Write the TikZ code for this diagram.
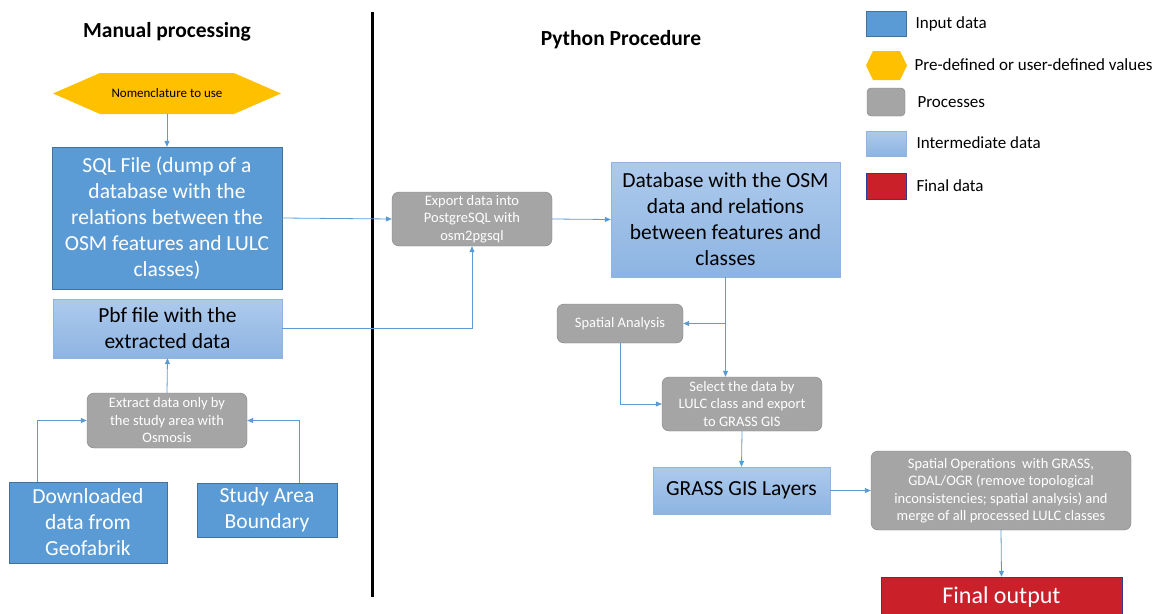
\documentclass[tikz,border=0pt]{standalone}
\usepackage{fontspec}
\setmainfont{Carlito}
\usepackage{tikz}
\usetikzlibrary{arrows.meta}
\definecolor{inblue}{HTML}{5B9BD5}
\definecolor{inborder}{HTML}{41719C}
\definecolor{midtop}{HTML}{ADCAEC}
\definecolor{midbot}{HTML}{8DB4E2}
\definecolor{midborder}{HTML}{8FB4DF}
\definecolor{procgrey}{HTML}{A5A5A5}
\definecolor{procborder}{HTML}{808080}
\definecolor{hexyellow}{HTML}{FFC000}
\definecolor{finred}{HTML}{C9202A}
\definecolor{finborder}{HTML}{2F3E8F}
\definecolor{linkblue}{HTML}{5B9BD5}
\tikzset{
  inbox/.style={draw=inborder,fill=inblue,text=white,align=center,inner sep=0pt,font=\fontsize{21.5}{26}\selectfont},
  midbox/.style={draw=midborder,top color=midtop,bottom color=midbot,align=center,inner sep=0pt,font=\fontsize{21.5}{26}\selectfont},
  procbox/.style={draw=procborder,fill=procgrey,rounded corners=7pt,text=white,align=center,inner sep=0pt,font=\fontsize{14.5}{17.5}\selectfont},
  finbox/.style={draw=finborder,fill=finred,text=white,align=center,inner sep=0pt,font=\fontsize{24}{28}\selectfont},
  legtext/.style={anchor=west,font=\fontsize{17}{20}\selectfont},
  heading/.style={font=\bfseries\fontsize{21.5}{24}\selectfont},
  link/.style={draw=linkblue,line width=0.8pt,-{Triangle[length=6pt,width=5pt]}}
}
\begin{document}
\begin{tikzpicture}[x=1pt,y=-1pt]
\useasboundingbox (0,0) rectangle (1153,613);
\begin{scope}
\clip (0,0) rectangle (1153,613);
\node[heading] (manual) at (167,32) {Manual processing};
\node[heading] (python) at (621,40) {Python Procedure};
\draw[line width=3pt] (372,12) -- (372,597);

\fill[hexyellow] (53,93.5) -- (100,73) -- (234,73) -- (281,93.5) -- (234,114) -- (100,114) -- cycle;
\node[minimum width=228pt,minimum height=41pt,inner sep=0pt,font=\fontsize{13}{15}\selectfont] (nomen) at (167,93.5) {Nomenclature to use};
\node[inbox,minimum width=230pt,minimum height=142pt] (sql) at (167,218) {SQL File (dump of a\\database with the\\relations between the\\OSM features and LULC\\classes)};
\node[midbox,minimum width=229pt,minimum height=59pt] (pbf) at (167.5,328.5) {Pbf file with the\\extracted data};
\node[procbox,minimum width=160pt,minimum height=55pt] (extract) at (167,420.5) {Extract data only by\\the study area with\\Osmosis};
\node[inbox,minimum width=158pt,minimum height=81pt] (down) at (88,522.5) {Downloaded\\data from\\Geofabrik};
\node[inbox,minimum width=140pt,minimum height=54pt] (study) at (267,510) {Study Area\\Boundary};

\node[procbox,minimum width=160pt,minimum height=54pt] (export) at (472,219) {Export data into\\PostgreSQL with\\osm2pgsql};
\node[midbox,minimum width=229pt,minimum height=115pt] (db) at (725.5,219.5) {Database with the OSM\\data and relations\\between features and\\classes};
\node[procbox,minimum width=126pt,minimum height=39pt] (spatial) at (620,323.5) {Spatial Analysis};
\node[procbox,minimum width=160pt,minimum height=54pt] (select) at (742,404) {Select the data by\\LULC class and export\\to GRASS GIS};
\node[midbox,minimum width=177pt,minimum height=47pt] (grass) at (741.5,490.5) {GRASS GIS Layers};
\node[procbox,minimum width=260pt,minimum height=79pt] (spops) at (1001,490.5) {Spatial Operations\ \ with GRASS,\\GDAL/OGR (remove topological\\inconsistencies; spatial analysis) and\\merge of all processed LULC classes};
\node[finbox,minimum width=241pt,minimum height=40pt] (final) at (1001.5,597) {Final output};

\draw[link] (nomen.south) -- (sql.north);
\draw[link] (sql.east) -- (export.west);
\draw[link] (pbf.east) -| (export.south);
\draw[link] (extract.north) -- (pbf.south);
\draw[link] ([xshift=-51pt]down.north) |- (extract.west);
\draw[link] ([xshift=32pt]study.north) |- (extract.east);
\draw[link] (export.east) -- (db.west);
\draw[link] (db.south) -- (db.south |- select.north);
\draw[link] (db.south |- spatial.east) -- (spatial.east);
\draw[link] (spatial.south) |- (select.west);
\draw[link] (select.south) -- (grass.north);
\draw[link] (grass.east) -- (spops.west);
\draw[link] (spops.south) -- (final.north);

\node[inbox,minimum width=40pt,minimum height=25pt] (leginput) at (886,23.5) {};
\node[legtext] (leginputtext) at (912,24) {Input data};
\fill[hexyellow] (866,65.5) -- (873,51) -- (900,51) -- (907,65.5) -- (900,80) -- (873,80) -- cycle;
\node[legtext] (leghextext) at (911,65) {Pre-defined or user-defined values};
\node[procbox,rounded corners=4pt,minimum width=38pt,minimum height=28pt] (legproc) at (886,102) {};
\node[legtext] (legproctext) at (914,102) {Processes};
\node[midbox,minimum width=40pt,minimum height=25pt] (legmid) at (886,143.5) {};
\node[legtext] (legmidtext) at (913,143) {Intermediate data};
\node[finbox,minimum width=40pt,minimum height=26pt] (legfin) at (886,186) {};
\node[legtext] (legfintext) at (913,186) {Final data};
\end{scope}
\end{tikzpicture}
\end{document}
